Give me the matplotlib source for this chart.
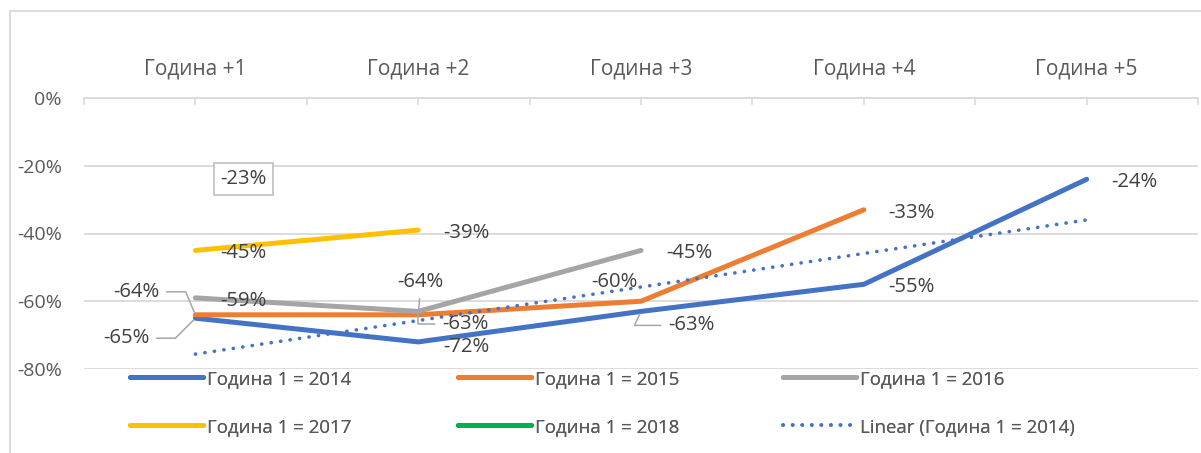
import numpy as np
import matplotlib
matplotlib.use('Agg')
from matplotlib import pyplot as plt
from matplotlib.patches import Rectangle
from matplotlib.ticker import FuncFormatter, FixedLocator

plt.rcParams['font.family'] = ['Open Sans', 'DejaVu Sans']

categories = ['Година +1', 'Година +2', 'Година +3', 'Година +4', 'Година +5']
y2014 = [-65, -72, -63, -55, -24]
y2015 = [-64, -64, -60, -33]
y2016 = [-59, -63, -45]
y2017 = [-45, -39]
y2018 = [-23]
# linear trend for 2014, read at Година +1 and Година +5
trend_x = [1, 5]
trend_2014 = [-75.6, -36.0]

series = [
    ('Година 1 = 2014', y2014, '#4472C4'),
    ('Година 1 = 2015', y2015, '#ED7D31'),
    ('Година 1 = 2016', y2016, '#A5A5A5'),
    ('Година 1 = 2017', y2017, '#FFC000'),
    ('Година 1 = 2018', y2018, '#00B050'),
]

FS_LBL = 14.6
FS_X = 15
FS_Y = 14
FS_LEG = 13.4
LBL = '#404040'
TXT = '#595959'
GRID = '#D9D9D9'
LEAD = '#A6A6A6'

fig = plt.figure(figsize=(12.01, 4.53), dpi=100)
W, H = 1201, 453
ax = fig.add_axes([84 / W, 1 - 369 / H, (1198 - 84) / W, (369 - 98) / H])

handles = {}
for name, vals, col in series:
    xs = np.arange(1, len(vals) + 1)
    ln, = ax.plot(xs, vals, color=col, lw=3.6, solid_capstyle='round',
                  solid_joinstyle='round', zorder=3)
    handles[name] = ln

tr, = ax.plot(trend_x, trend_2014, color='#4472C4', lw=2.6,
              linestyle=(0, (0.05, 2.6)), dash_capstyle='round', zorder=4)
handles['Linear (Година 1 = 2014)'] = tr

# data label offsets in pixels (dx right, dy down), default is right of point
default_off = (48, 3)
custom = {
    ('Година 1 = 2014', 0): ((-69, 20), (1, 0.5), 'angle,angleA=0,angleB=45'),
    ('Година 1 = 2014', 1): ((48, 5), None, None),
    ('Година 1 = 2014', 2): ((50, 14), (0, 0.5), 'angle,angleA=0,angleB=65'),
    ('Година 1 = 2015', 0): ((-59, -23), (1, 0.5), 'angle,angleA=0,angleB=113'),
    ('Година 1 = 2015', 1): ((2, -33), (0.5, 0), 'arc3'),
    ('Година 1 = 2015', 2): ((-27, -19), None, None),
    ('Година 1 = 2016', 1): ((47, 13), (0, 0.5), 'angle,angleA=0,angleB=90'),
}

for name, vals, col in series:
    for i, v in enumerate(vals):
        off, rel, conn = default_off, None, None
        if (name, i) in custom:
            off, rel, conn = custom[(name, i)]
        kw = {}
        if conn is not None:
            kw['arrowprops'] = dict(arrowstyle='-', color=LEAD, lw=1.1,
                                    shrinkA=3, shrinkB=2, relpos=rel,
                                    connectionstyle=conn)
        if name == 'Година 1 = 2018':
            kw['bbox'] = dict(boxstyle='square,pad=0.3', fc='white',
                              ec='#BFBFBF', lw=1.2)
        ax.annotate(f'{v}%', (i + 1, v), xytext=(off[0], -off[1]),
                    textcoords='offset pixels', ha='center', va='center',
                    fontsize=FS_LBL, color=LBL, zorder=6, **kw)

ax.set_xlim(0.5, 5.5)
ax.set_ylim(-80, 0)
ax.xaxis.tick_top()
ax.set_xticks(range(1, 6))
ax.set_xticklabels(categories)
ax.xaxis.set_minor_locator(FixedLocator(np.arange(0.5, 6, 1)))
ax.tick_params(axis='x', which='both', direction='in', length=5, width=1.2,
               color=GRID, labelsize=FS_X, labelcolor=TXT, pad=13)
ax.set_yticks([0, -20, -40, -60, -80])
ax.yaxis.set_major_formatter(FuncFormatter(lambda v, p: f'{v:.0f}%'))
ax.tick_params(axis='y', length=0, labelsize=FS_Y, labelcolor=TXT, pad=16)
ax.grid(axis='y', color=GRID, lw=1.3)
ax.set_axisbelow(True)
for s in ['left', 'right', 'bottom']:
    ax.spines[s].set_visible(False)
ax.spines['top'].set_color(GRID)
ax.spines['top'].set_linewidth(1.3)

# legend: three columns placed side by side
cols = [
    (130, ['Година 1 = 2014', 'Година 1 = 2017']),
    (458, ['Година 1 = 2015', 'Година 1 = 2018']),
    (783, ['Година 1 = 2016', 'Linear (Година 1 = 2014)']),
]
for x0, names in cols:
    leg = fig.legend([handles[n] for n in names], names, loc='upper left',
                     bbox_to_anchor=(x0 / W, 1 - 370 / H), frameon=False,
                     fontsize=FS_LEG, labelcolor=TXT, handlelength=3.9,
                     handletextpad=0.25, borderpad=0, borderaxespad=0,
                     labelspacing=1.6)
    fig.add_artist(leg)

fig.patches.append(Rectangle((10 / W, -0.1), 1.2, 1 - 11 / H + 0.1,
                             transform=fig.transFigure, fill=False,
                             ec=GRID, lw=1.3))

fig.savefig('out.png', dpi=100)
